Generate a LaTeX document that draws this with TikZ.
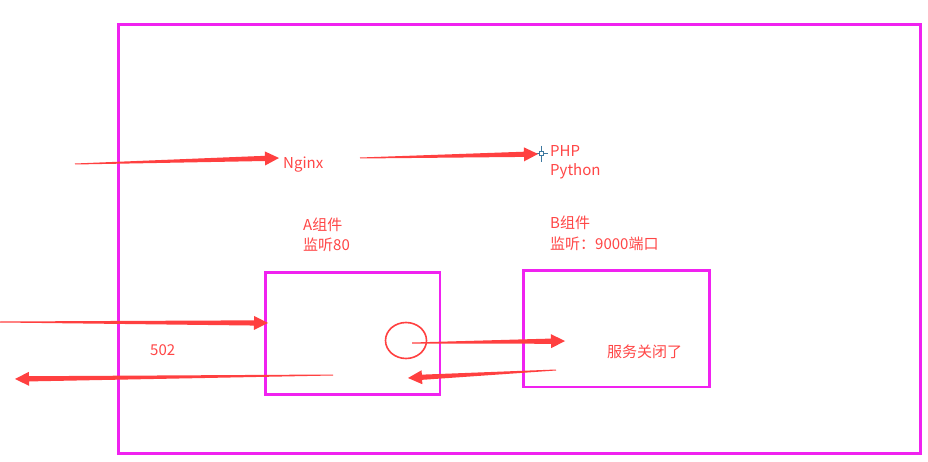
\documentclass[tikz,border=0pt]{standalone}
\usepackage{fontspec}
\setmainfont{Noto Sans CJK SC}
\usetikzlibrary{calc}
\definecolor{frame}{RGB}{240,34,240}
\definecolor{arrred}{RGB}{255,64,64}
\definecolor{txtred}{RGB}{255,70,70}
\definecolor{cross}{RGB}{60,120,160}
\tikzset{
  framebox/.style={draw=frame, line width=2.6pt},
  lbl/.style={text=txtred, font=\fontsize{15}{17}\selectfont, inner sep=0pt, anchor=base west},
}
% tapered arrow: #1 tail, #2 tip
\newcommand{\taperarrow}[2]{%
  \coordinate (hb) at ($(#2)!14pt!(#1)$);
  \fill[arrred] ($(#1)!0.5pt!90:(#2)$) -- ($(hb)!2.6pt!-90:(#1)$) -- ($(hb)!7pt!-90:(#1)$)
    -- (#2) -- ($(hb)!7pt!90:(#1)$) -- ($(hb)!2.6pt!90:(#1)$) -- ($(#1)!0.5pt!-90:(#2)$) -- cycle;
}
\begin{document}
\begin{tikzpicture}[x=1pt,y=-1pt]
\useasboundingbox (0,0) rectangle (928,462);
\fill[white] (0,0) rectangle (928,462);
% frames
\draw[framebox] (118.5,24.5) rectangle (920.5,453.5);
\draw[framebox] (265.5,272.5) rectangle (440,394.5);
\draw[framebox] (523.5,270.5) rectangle (709.5,387);
% labels
\node[lbl] (nginx) at (283,169) {Nginx};
\node[lbl] (php) at (550,157) {PHP};
\node[lbl] (python) at (550,176) {Python};
\node[lbl] (acomp) at (303,231) {A组件};
\node[lbl] (alisten) at (303,251) {监听80};
\node[lbl] (bcomp) at (550,229) {B组件};
\node[lbl] (blisten) at (550,249) {监听：9000端口};
\node[lbl] (e502) at (150,355) {502};
\node[lbl] (closed) at (607,357) {服务关闭了};
% circle
\draw[arrred, line width=1.6pt] (406,340.5) ellipse [x radius=20.5, y radius=18];
% crosshair
\coordinate (ch) at (541,154);
\draw[cross, line width=1pt] ($(ch)+(-7,0)$) -- ($(ch)+(7,0)$);
\draw[cross, line width=1pt] ($(ch)+(0,-8)$) -- ($(ch)+(0,8)$);
\draw[cross, fill=white, line width=1pt] ($(ch)+(-2,-2)$) rectangle ($(ch)+(2,2)$);
% arrow coordinates
\coordinate (t1) at (75,164);   \coordinate (h1) at (279,158);
\coordinate (t2) at (360,158);  \coordinate (h2) at (538,154);
\coordinate (t3) at (0,322);    \coordinate (h3) at (268,323);
\coordinate (t4) at (333,375);  \coordinate (h4) at (15,379);
\coordinate (t5) at (412,343);  \coordinate (h5) at (565,341);
\coordinate (t6) at (556,370);  \coordinate (h6) at (408,378);
\taperarrow{t1}{h1}
\taperarrow{t2}{h2}
\taperarrow{t3}{h3}
\taperarrow{t4}{h4}
\taperarrow{t5}{h5}
\taperarrow{t6}{h6}
\end{tikzpicture}
\end{document}
